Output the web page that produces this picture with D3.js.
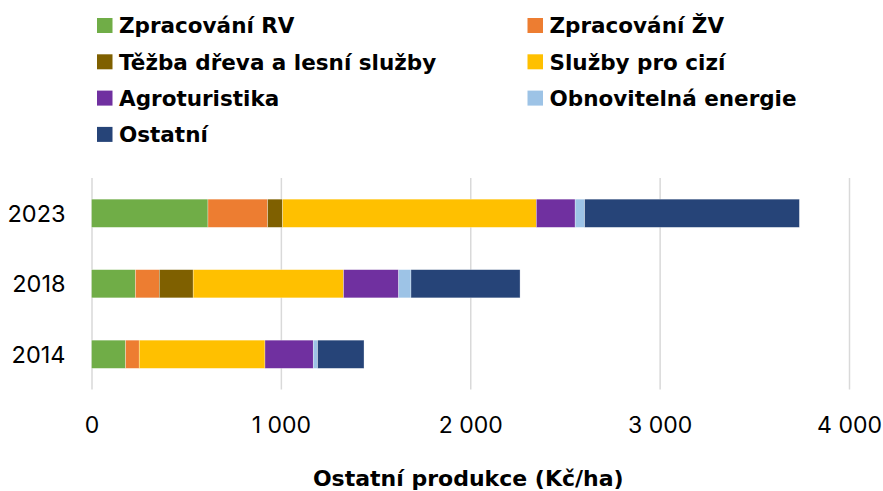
<!DOCTYPE html>
<html>
<head>
<meta charset="utf-8">
<script src="https://cdn.jsdelivr.net/npm/d3@7"></script>
<style>
  body { margin: 0; background: #fff; }
  svg text { font-family: Inter, "DejaVu Sans", sans-serif; fill: #000; }
</style>
</head>
<body>
<svg id="chart" width="883" height="491"></svg>
<script>
// years from top to bottom
const years = ["2023", "2018", "2014"];

const seriesNames = ["Zpracování RV", "Zpracování ŽV", "Těžba dřeva a lesní služby",
    "Služby pro cizí", "Agroturistika", "Obnovitelná energie", "Ostatní"];

const colors = ["#70ad47", "#ed7d31", "#7f6000", "#ffc000", "#7030a0", "#9dc3e6", "#264478"];

// values in Kč/ha, same order as years
const zpracRV   = [615, 232, 180];
const zpracZV   = [315, 126, 72];
const tezba     = [79, 179, 0];
const sluzby    = [1340, 794, 664];
const agro      = [205, 291, 255];
const obnov     = [50, 65, 23];
const ostatni   = [1134, 576, 245];

const xTicks = [0, 1000, 2000, 3000, 4000];

const seriesValues = [zpracRV, zpracZV, tezba, sluzby, agro, obnov, ostatni];

const table = years.map((y, i) => {
    let row = { year: y };
    seriesNames.forEach((s, k) => row[s] = seriesValues[k][i]);
    return row;
});

const svg = d3.select("#chart");

const plot = { left: 91.5, right: 849, top: 178, bottom: 389.5 };

const x = d3.scaleLinear()
    .domain([0, 4000])
    .range([plot.left, plot.right]);

const y = d3.scaleBand()
    .domain(years)
    .range([plot.top, plot.bottom])
    .paddingInner(0.6)
    .paddingOuter(0.3);

const cz = d3.formatLocale({ decimal: ",", thousands: " ", grouping: [3], currency: ["", " Kč"] });
const fmt = cz.format(",.0f");

// gridlines + tick labels
const xAxis = svg.append("g")
    .attr("transform", "translate(0," + plot.bottom + ")")
    .call(d3.axisBottom(x).tickValues(xTicks).tickFormat(fmt).tickSize(-(plot.bottom - plot.top)));

xAxis.select(".domain").remove();
xAxis.selectAll(".tick line")
    .attr("stroke", "#d9d9d9")
    .attr("stroke-width", 1.5);
xAxis.selectAll(".tick text")
    .attr("y", 43.5)
    .attr("dy", 0)
    .style("font-size", "23px")
    .style("font-family", "Inter, sans-serif");

// year labels
svg.append("g").selectAll("text")
    .data(years)
    .enter().append("text")
    .attr("x", plot.left - 26)
    .attr("y", d => y(d) + y.bandwidth() / 2)
    .attr("dy", "0.36em")
    .attr("text-anchor", "end")
    .style("font-size", "23.5px")
    .text(d => d);

// bars
const stacked = d3.stack().keys(seriesNames)(table);

svg.append("g").selectAll("g")
    .data(stacked)
    .enter().append("g")
    .attr("fill", (d, i) => colors[i])
    .selectAll("rect")
    .data(d => d)
    .enter().append("rect")
    .attr("x", d => x(d[0]))
    .attr("y", d => y(d.data.year))
    .attr("width", d => x(d[1]) - x(d[0]))
    .attr("height", y.bandwidth())
    .attr("stroke", "#fff")
    .attr("stroke-width", d => (d[1] - d[0]) > 0 ? 0.6 : 0)
    .attr("stroke-opacity", 0.5);

// legend, two columns
const legCols = [97, 527.5];
const legRow0 = 25.5, legRowStep = 36.3;

const leg = svg.append("g").selectAll("g")
    .data(seriesNames)
    .enter().append("g")
    .attr("transform", (d, i) => "translate(" + legCols[i % 2] + "," + (legRow0 + Math.floor(i / 2) * legRowStep) + ")");

leg.append("rect")
    .attr("x", 0)
    .attr("y", -7.5)
    .attr("width", 15.5)
    .attr("height", 15)
    .attr("fill", (d, i) => colors[i]);

leg.append("text")
    .attr("x", 22)
    .attr("dy", "0.36em")
    .style("font-family", "'DejaVu Sans', sans-serif")
    .style("font-size", "21.5px")
    .style("font-weight", "bold")
    .text(d => d);

// axis title
svg.append("text")
    .attr("x", (plot.left + plot.right) / 2 - 2)
    .attr("y", 486)
    .attr("text-anchor", "middle")
    .style("font-family", "'DejaVu Sans', sans-serif")
    .style("font-size", "22px")
    .style("font-weight", "bold")
    .text("Ostatní produkce (Kč/ha)");
</script>
</body>
</html>
